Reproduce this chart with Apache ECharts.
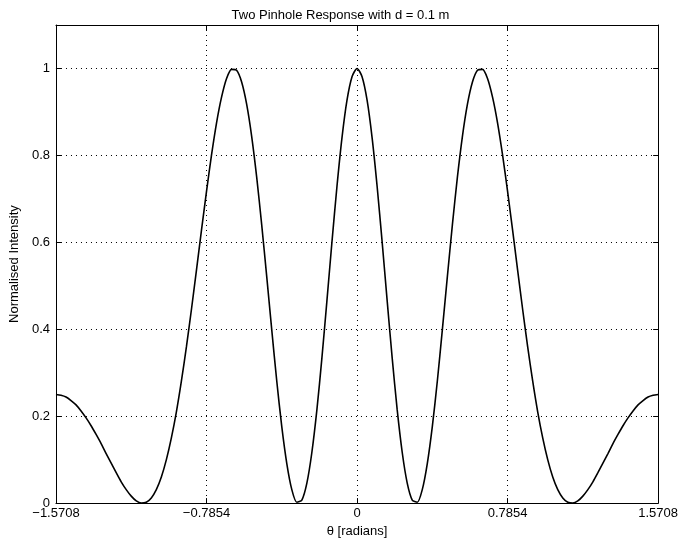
<!DOCTYPE html>
<html>
<head>
<meta charset="utf-8">
<script src="https://cdn.jsdelivr.net/npm/echarts@6/dist/echarts.min.js"></script>
<style>
  html, body { margin: 0; padding: 0; background: #fff; }
  #chart { width: 681px; height: 543px; }
</style>
</head>
<body>
<div id="chart"></div>
<script>
// Angle of observation (radians), -90° .. 90° in 1.5° steps
const theta = [
  -1.5708, -1.5446, -1.5184, -1.4923, -1.4661, -1.4399, -1.4137, -1.3875,
  -1.3614, -1.3352, -1.3090, -1.2828, -1.2566, -1.2305, -1.2043, -1.1781,
  -1.1519, -1.1257, -1.0996, -1.0734, -1.0472, -1.0210, -0.9948, -0.9687,
  -0.9425, -0.9163, -0.8901, -0.8639, -0.8378, -0.8116, -0.7854, -0.7592,
  -0.7330, -0.7069, -0.6807, -0.6545, -0.6283, -0.6021, -0.5760, -0.5498,
  -0.5236, -0.4974, -0.4712, -0.4451, -0.4189, -0.3927, -0.3665, -0.3403,
  -0.3142, -0.2880, -0.2618, -0.2356, -0.2094, -0.1833, -0.1571, -0.1309,
  -0.1047, -0.0785, -0.0524, -0.0262, 0,
  0.0262, 0.0524, 0.0785, 0.1047, 0.1309, 0.1571, 0.1833, 0.2094,
  0.2356, 0.2618, 0.2880, 0.3142, 0.3403, 0.3665, 0.3927, 0.4189,
  0.4451, 0.4712, 0.4974, 0.5236, 0.5498, 0.5760, 0.6021, 0.6283,
  0.6545, 0.6807, 0.7069, 0.7330, 0.7592, 0.7854, 0.8116, 0.8378,
  0.8639, 0.8901, 0.9163, 0.9425, 0.9687, 0.9948, 1.0210, 1.0472,
  1.0734, 1.0996, 1.1257, 1.1519, 1.1781, 1.2043, 1.2305, 1.2566,
  1.2828, 1.3090, 1.3352, 1.3614, 1.3875, 1.4137, 1.4399, 1.4661,
  1.4923, 1.5184, 1.5446, 1.5708
];

// Normalised intensity of the two-pinhole pattern
const intensity = [
  0.250, 0.248, 0.244, 0.236, 0.226, 0.212, 0.196, 0.178,
  0.158, 0.137, 0.114, 0.092, 0.070, 0.049, 0.031, 0.016,
  0.005, 0.000, 0.002, 0.012, 0.031, 0.060, 0.100, 0.150,
  0.210, 0.281, 0.360, 0.446, 0.536, 0.628, 0.717, 0.801,
  0.875, 0.934, 0.977, 0.998, 0.996, 0.969, 0.918, 0.844,
  0.750, 0.640, 0.521, 0.399, 0.281, 0.176, 0.091, 0.031,
  0.002, 0.007, 0.046, 0.117, 0.215, 0.334, 0.466, 0.601,
  0.729, 0.841, 0.927, 0.981, 1.000,
  0.981, 0.927, 0.841, 0.729, 0.601, 0.466, 0.334, 0.215,
  0.117, 0.046, 0.007, 0.002, 0.031, 0.091, 0.176, 0.281,
  0.399, 0.521, 0.640, 0.750, 0.844, 0.918, 0.969, 0.996,
  0.998, 0.977, 0.934, 0.875, 0.801, 0.717, 0.628, 0.536,
  0.446, 0.360, 0.281, 0.210, 0.150, 0.100, 0.060, 0.031,
  0.012, 0.002, 0.000, 0.005, 0.016, 0.031, 0.049, 0.070,
  0.092, 0.114, 0.137, 0.158, 0.178, 0.196, 0.212, 0.226,
  0.236, 0.244, 0.248, 0.250
];

const xTickLabels = ['\u22121.5708', '\u22120.7854', '0', '0.7854', '1.5708'];
const yTickLabels = ['0', '0.2', '0.4', '0.6', '0.8', '1'];

const FONT = '"Liberation Sans", Arial, Helvetica, sans-serif';
const textStyle = { color: '#000', fontFamily: FONT, fontSize: 13 };
const frame = { show: true, onZero: false, lineStyle: { color: '#000', width: 1 } };
const ticks = { show: true, inside: true, length: 5, lineStyle: { color: '#000', width: 1 } };
const grid = { show: true, lineStyle: { color: '#000', width: 1, type: [1, 4] } };

const chart = echarts.init(document.getElementById('chart'), null, { renderer: 'canvas' });

chart.setOption({
  animation: false,
  backgroundColor: '#fff',
  title: {
    text: 'Two Pinhole Response with d = 0.1 m',
    left: 'center',
    top: 4,
    textStyle: Object.assign({}, textStyle, { fontWeight: 'normal' })
  },
  grid: { left: 53, right: 19, top: 25, bottom: 39, containLabel: false },
  xAxis: [
    {
      type: 'value',
      min: -1.5708, max: 1.5708, interval: 0.7854,
      name: '\u03b8 [radians]',
      nameLocation: 'middle',
      nameGap: 16,
      nameTextStyle: textStyle,
      axisLine: frame,
      axisTick: ticks,
      splitLine: grid,
      axisLabel: Object.assign({}, textStyle, {
        margin: 4,
        formatter: (v, i) => xTickLabels[i] !== undefined ? xTickLabels[i] : ''
      })
    },
    {
      type: 'value', position: 'top',
      min: -1.5708, max: 1.5708, interval: 0.7854,
      axisLine: frame, axisTick: ticks,
      axisLabel: { show: false }, splitLine: { show: false }
    }
  ],
  yAxis: [
    {
      type: 'value',
      min: 0, max: 1.1, interval: 0.2,
      name: 'Normalised Intensity',
      nameLocation: 'middle',
      nameRotate: 90,
      nameGap: 23,
      nameTextStyle: textStyle,
      axisLine: frame,
      axisTick: ticks,
      splitLine: grid,
      axisLabel: Object.assign({}, textStyle, {
        margin: 6,
        formatter: (v, i) => yTickLabels[i] !== undefined ? yTickLabels[i] : ''
      })
    },
    {
      type: 'value', position: 'right',
      min: 0, max: 1.1, interval: 0.2,
      axisLine: frame, axisTick: ticks,
      axisLabel: { show: false }, splitLine: { show: false }
    }
  ],
  series: [
    {
      type: 'line',
      data: theta.map((t, i) => [t, intensity[i]]),
      smooth: 0.25,
      showSymbol: false,
      clip: true,
      lineStyle: { color: '#000', width: 1.6 }
    }
  ]
});
</script>
</body>
</html>
